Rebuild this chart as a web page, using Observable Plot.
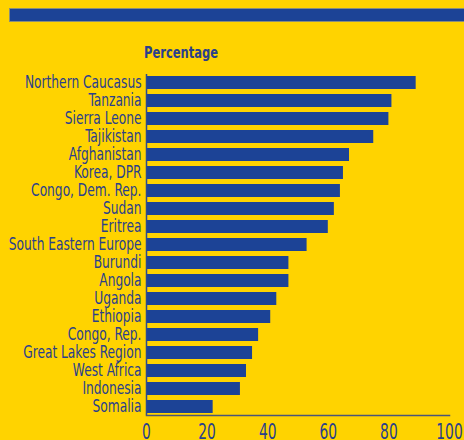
<!DOCTYPE html>
<html>
<head>
<meta charset="utf-8">
<script src="https://cdn.jsdelivr.net/npm/d3@7"></script>
<script src="https://cdn.jsdelivr.net/npm/@observablehq/plot@0.6"></script>
<style>
  html, body { margin: 0; padding: 0; background: #FFD300; width: 464px; height: 440px; overflow: hidden; }
  #wrap { position: relative; width: 464px; height: 440px; }
  #strip { position: absolute; left: 9px; top: 8px; width: 460px; height: 12px; background: #1C4396; border: 1px solid #8a8f7a; }
  #ytitle { position: absolute; left: 144px; top: 43px; font-family: "DejaVu Sans Condensed", sans-serif; font-weight: bold; font-size: 16px; color: #2A3F8C; transform: scaleX(0.8); transform-origin: left center; }
  #chart { position: absolute; left: 0; top: 0; }
</style>
</head>
<body>
<div id="wrap">
  <div id="strip"></div>
  <div id="chart"></div>
  <div id="ytitle">Percentage</div>
</div>
<script>
const regions = ["Northern Caucasus","Tanzania","Sierra Leone","Tajikistan","Afghanistan","Korea, DPR","Congo, Dem. Rep.","Sudan","Eritrea","South Eastern Europe","Burundi","Angola","Uganda","Ethiopia","Congo, Rep.","Great Lakes Region","West Africa","Indonesia","Somalia"];
const percentages = [89, 81, 80, 75, 67, 65, 64, 62, 60, 53, 47, 47, 43, 41, 37, 35, 33, 31, 22];
const xTicks = [0, 20, 40, 60, 80, 100];

const data = regions.map((r, i) => ({region: r, value: percentages[i]}));

const chart = Plot.plot({
  width: 464,
  height: 440,
  marginTop: 74,
  marginBottom: 25,
  marginLeft: 146,
  marginRight: 15,
  style: {background: "transparent", fontFamily: "'DejaVu Sans Condensed', sans-serif", color: "#2A3F8C", overflow: "visible"},
  x: {domain: [0, 100], ticks: xTicks, label: null},
  y: {domain: regions, paddingInner: 0.28, paddingOuter: 0.1, label: null},
  marks: [
    Plot.barX(data, {y: "region", x: "value", fill: "#1C4396"}),
    Plot.ruleX([0], {stroke: "#2B4A8F", strokeWidth: 1.5}),
    Plot.frame({anchor: "bottom", stroke: "#4A5578", strokeWidth: 1.5}),
    Plot.axisX({ticks: xTicks, tickSize: 0, tickPadding: 8, fontSize: 22, fill: "#2A3F8C", label: null}),
    Plot.axisY({tickSize: 0, tickPadding: 5, fontSize: 17, fill: "#2A3F8C", label: null})
  ]
});
chart.querySelectorAll('[aria-label="y-axis tick label"] text').forEach(t => {
  t.setAttribute("transform", (t.getAttribute("transform") || "") + " scale(0.8,1)");
});
chart.querySelectorAll('[aria-label="x-axis tick label"] text').forEach(t => {
  t.setAttribute("transform", (t.getAttribute("transform") || "") + " scale(0.7,1)");
});
document.getElementById("chart").appendChild(chart);
</script>
</body>
</html>
